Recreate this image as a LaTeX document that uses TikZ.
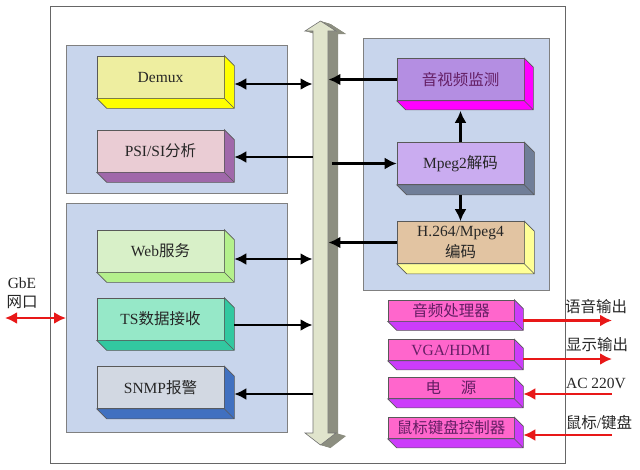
\documentclass[tikz,border=0pt]{standalone}
\usepackage{fontspec}
\setmainfont{Liberation Serif}
\newfontfamily\cjk{Noto Sans CJK SC}
\usepackage{tikz}
\usetikzlibrary{arrows.meta}
\definecolor{panel}{RGB}{200,213,236}
\definecolor{busF}{RGB}{224,228,204}
\definecolor{busS}{RGB}{140,142,128}
\definecolor{dmxF}{RGB}{238,238,160}
\definecolor{dmxS}{RGB}{255,255,0}
\definecolor{psiF}{RGB}{234,204,212}
\definecolor{psiS}{RGB}{160,104,170}
\definecolor{webF}{RGB}{216,240,200}
\definecolor{webS}{RGB}{180,240,140}
\definecolor{tsF}{RGB}{150,232,200}
\definecolor{tsS}{RGB}{50,200,160}
\definecolor{snmpF}{RGB}{210,216,226}
\definecolor{snmpS}{RGB}{64,112,192}
\definecolor{monF}{RGB}{180,142,226}
\definecolor{monS}{RGB}{255,0,255}
\definecolor{mpgF}{RGB}{202,172,240}
\definecolor{mpgS}{RGB}{112,126,152}
\definecolor{h26F}{RGB}{226,196,162}
\definecolor{h26S}{RGB}{255,255,150}
\definecolor{pnkF}{RGB}{255,102,204}
\definecolor{pnkS}{RGB}{204,60,250}
\definecolor{pnkT}{RGB}{100,30,100}
\definecolor{redA}{RGB}{232,24,24}

\begin{document}
\begin{tikzpicture}[x=1pt,y=-1pt,>={Latex[length=12pt,width=12pt]},
  font=\fontsize{15.5}{21}\selectfont,
  panelbox/.style={draw=black!50,fill=panel,line width=0.8pt,inner sep=0,anchor=north west},
  blk/.style={draw=black!65,fill=#1,line width=0.6pt,minimum width=127,minimum height=42,inner sep=0,text=black!85,align=center},
  pinkblk/.style={draw=black!65,fill=pnkF,line width=0.6pt,minimum width=126,minimum height=21,inner sep=0,text=pnkT},
  link/.style={line width=2.6pt,black},
  redlink/.style={line width=2.6pt,redA},
  tag/.style={inner sep=0,text=black!85}]

\useasboundingbox (0,0) rectangle (640,469);

% frame and panels
\draw[black!60,line width=0.8pt,fill=white] (50,6) rectangle (565,463);
\node[panelbox,minimum width=221,minimum height=148] (parse) at (66,45) {};
\node[panelbox,minimum width=221,minimum height=229] (svc) at (66,203) {};
\node[panelbox,minimum width=186,minimum height=252] (av) at (363,38) {};

% bus
\node[minimum width=15.5,minimum height=412,inner sep=0] (bus) at (320.5,232) {};
\foreach \i in {0.5,1,...,10}
  \fill[busS,shift={(\i,0.3*\i)}] (313,31) -- (305,31) -- (320.5,21) -- (336,31) -- (328,31)
    -- (328,433) -- (336,433) -- (320.5,445) -- (305,433) -- (313,433) -- cycle;
\filldraw[fill=busF,draw=black!55,line width=0.6pt] (313,31) -- (305,31) -- (320.5,21) -- (336,31) -- (328,31)
    -- (328,433) -- (336,433) -- (320.5,445) -- (305,433) -- (313,433) -- cycle;

% boxes
\node[blk=dmxF] (demux) at (160.5,77) {Demux};
\node[blk=psiF] (psi) at (160.5,151) {PSI/SI{\cjk 分析}};
\node[blk=webF] (web) at (160.5,251) {Web{\cjk 服务}};
\node[blk=tsF] (ts) at (160.5,319) {TS{\cjk 数据接收}};
\node[blk=snmpF] (snmp) at (160.5,387.5) {SNMP{\cjk 报警}};
\node[blk=monF,text=pnkT] (mon) at (460.5,79.5) {\cjk 音视频监测};
\node[blk=mpgF] (mpeg) at (460.5,163.5) {Mpeg2{\cjk 解码}};
\node[blk=h26F] (h264) at (460.5,242.5) {H.264/Mpeg4\\{\cjk 编码}};
\node[pinkblk] (aud) at (451,310.5) {\cjk 音频处理器};
\node[pinkblk] (vga) at (451,350) {VGA/HDMI};
\node[pinkblk] (pwr) at (451,388) {\cjk 电\hspace{20pt}源};
\node[pinkblk] (kbd) at (451,428) {\cjk 鼠标键盘控制器};

\foreach \n/\c/\d in {demux/dmxS/10,psi/psiS/10,web/webS/10,ts/tsS/10,snmp/snmpS/10,
    mon/monS/9,mpeg/mpgS/10,h264/h26S/10,aud/pnkS/9,vga/pnkS/9,pwr/pnkS/9,kbd/pnkS/9}
  \filldraw[fill=\c,draw=black!65,line width=0.6pt] (\n.north east) -- ++(\d,\d) -- ([shift={(\d,\d)}]\n.south east)
    -- ([shift={(\d,\d)}]\n.south west) -- (\n.south west) -- (\n.south east) -- cycle (\n.south east) -- ++(\d,\d);

% outside labels
\node[tag] (gbe) at (22,283) {GbE};
\node[tag] (gbe2) at (22,302) {\cjk 网口};
\node[tag] (voxT) at (596,307) {\cjk 语音输出};
\node[tag] (dspT) at (597,345) {\cjk 显示输出};
\node[tag] (acT) at (596,383) {AC 220V};
\node[tag] (kbdT) at (599,423) {{\cjk 鼠标}/{\cjk 键盘}};
\coordinate (gbeE) at (5,318);
\coordinate (outE) at (612,0);

% connectors to the bus
\draw[link,<->] ([shift={(10,7)}]demux.east) -- ([shift={(0,7)}]demux.east -| bus.west);
\draw[link,<-] ([shift={(10,6)}]psi.east) -- ([shift={(0,6)}]psi.east -| bus.west);
\draw[link,<->] ([shift={(10,8)}]web.east) -- ([shift={(0,8)}]web.east -| bus.west);
\draw[link,->] ([shift={(10,6)}]ts.east) -- ([shift={(0,6)}]ts.east -| bus.west);
\draw[link,<-] ([shift={(10,6.5)}]snmp.east) -- ([shift={(0,6.5)}]snmp.east -| bus.west);
\draw[link,->] (mon.west) -- (mon.west -| bus.east);
\draw[link,->] ([xshift=4pt]mpeg.west -| bus.east) -- (mpeg.west);
\draw[link,->] (h264.west) -- (h264.west -| bus.east);
\draw[link,->] (mpeg.north) -- ([yshift=-10pt]mon.south);
\draw[link,->] ([yshift=-10pt]mpeg.south) -- (h264.north);

% red lines
\draw[redlink,<->] (gbeE) -- (gbeE -| svc.west);
\draw[redlink,->] ([shift={(9,10)}]aud.east) -- ([shift={(0,10)}]aud.east -| outE);
\draw[redlink,->] ([shift={(9,9)}]vga.east) -- ([shift={(0,9)}]vga.east -| outE);
\draw[redlink,<-] ([shift={(9,6)}]pwr.east) -- ([shift={(0,6)}]pwr.east -| outE);
\draw[redlink,<-] ([shift={(9,7)}]kbd.east) -- ([shift={(0,7)}]kbd.east -| outE);
\end{tikzpicture}
\end{document}
